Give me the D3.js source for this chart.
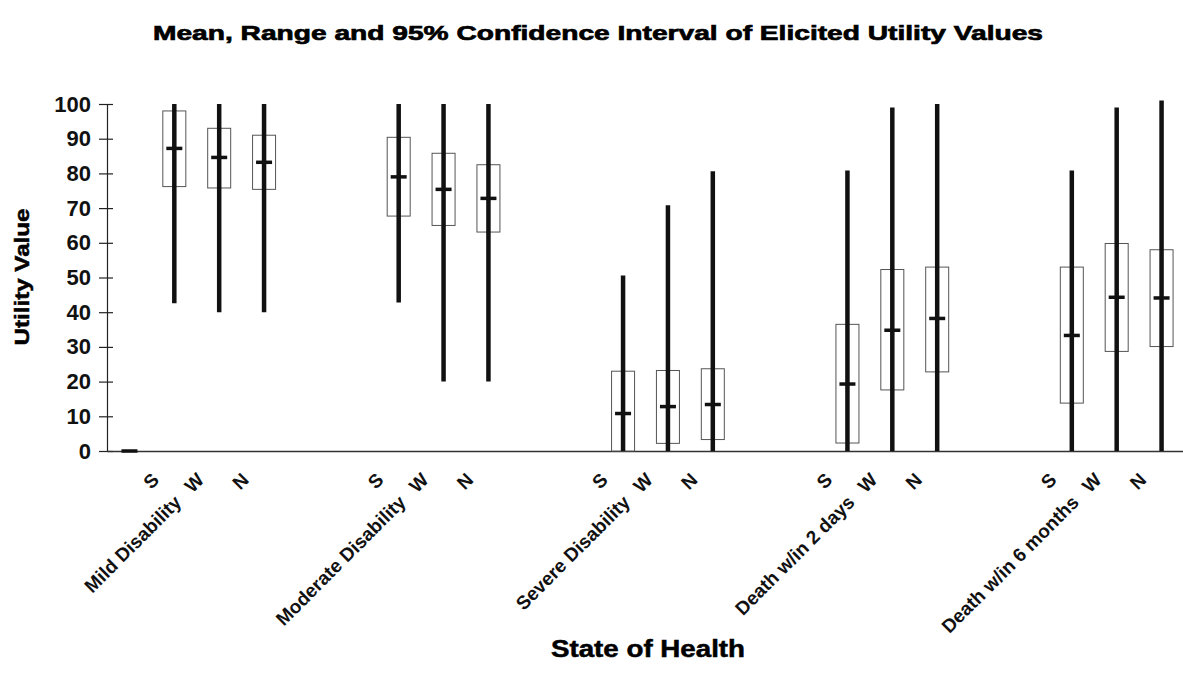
<!DOCTYPE html>
<html>
<head>
<meta charset="utf-8">
<script src="https://cdn.jsdelivr.net/npm/d3@7"></script>
<style>
  html, body { margin: 0; padding: 0; background: #fff; }
  svg { display: block; font-family: "Liberation Sans", Arial, Helvetica, sans-serif; }
</style>
</head>
<body>
<svg id="chart" width="1183" height="688"></svg>
<script>
// Health states and the three respondent series shown for each
const healthStates = ["Mild Disability", "Moderate Disability", "Severe Disability", "Death w/in 2 days", "Death w/in 6 months"];
const seriesCodes = ["S", "W", "N"];

// Mean utility per state (rows) and series (columns)
const meanUtility = [
  [87.2, 84.6, 83.2],
  [79.0, 75.4, 72.8],
  [10.8, 12.8, 13.4],
  [19.3, 34.8, 38.2],
  [33.3, 44.3, 44.1]
];
// 95% confidence interval bounds
const ciLower = [
  [76.2, 75.8, 75.4],
  [67.7, 65.0, 63.1],
  [0.0, 2.2, 3.3],
  [2.3, 17.6, 22.8],
  [13.8, 28.7, 30.1]
];
const ciUpper = [
  [98.0, 93.0, 91.0],
  [90.4, 85.8, 82.5],
  [23.0, 23.2, 23.7],
  [36.5, 52.3, 53.0],
  [53.0, 59.8, 58.0]
];
// Observed range of elicited values
const rangeMin = [
  [42.6, 40.0, 40.0],
  [42.8, 20.0, 20.0],
  [0.0, 0.0, 0.0],
  [0.0, 0.0, 0.0],
  [0.0, 0.0, 0.0]
];
const rangeMax = [
  [100.0, 100.0, 100.0],
  [100.0, 100.0, 100.0],
  [50.6, 70.8, 80.6],
  [80.8, 99.0, 100.0],
  [80.8, 99.0, 101.0]
];
// Leading empty category plotted at zero
const leadingMean = 0;

const yTicks = [0, 10, 20, 30, 40, 50, 60, 70, 80, 90, 100];

// Category slots: one leading blank, then each state's three series followed by two empty slots
const slots = [{ key: "lead", blank: true }];
healthStates.forEach((state, gi) => {
  seriesCodes.forEach((code, si) => {
    slots.push({
      key: gi + "-" + si, state, code, gi, si,
      mean: meanUtility[gi][si], lo: ciLower[gi][si], hi: ciUpper[gi][si],
      min: rangeMin[gi][si], max: rangeMax[gi][si]
    });
  });
  if (gi < healthStates.length - 1) {
    slots.push({ key: "gap" + gi + "a", blank: true });
    slots.push({ key: "gap" + gi + "b", blank: true });
  }
});

const svg = d3.select("#chart");
const plotLeft = 107, plotRight = 1184, plotBottom = 451, plotTop = 104;

const x = d3.scaleBand().domain(slots.map(d => d.key)).range([plotLeft, plotRight]);
const y = d3.scaleLinear().domain([0, 100]).range([plotBottom, plotTop]);
const cx = k => x(k) + x.bandwidth() / 2;

// Title
svg.append("text")
  .attr("x", 598).attr("y", 40)
  .attr("text-anchor", "middle")
  .attr("font-size", 21).attr("font-weight", "bold")
  .attr("stroke", "#000").attr("stroke-width", 0.7)
  .attr("textLength", 890).attr("lengthAdjust", "spacingAndGlyphs")
  .text("Mean, Range and 95% Confidence Interval of Elicited Utility Values");

// Y axis
const yAxis = d3.axisLeft(y).tickValues(yTicks).tickSize(8).tickPadding(10);
const yg = svg.append("g").attr("transform", `translate(${plotLeft},0)`).call(yAxis);
yg.select(".domain").attr("stroke", "#222").attr("stroke-width", 1.2);
yg.selectAll(".tick line").attr("stroke", "#222").attr("stroke-width", 1.2).attr("x2", 6).attr("x1", -8);
yg.selectAll(".tick text")
  .attr("font-size", 22).attr("font-weight", "bold").attr("fill", "#111")
  .attr("font-family", "Liberation Sans, Arial, sans-serif")
  .attr("x", -16);

svg.append("text")
  .attr("transform", `translate(29,277) rotate(-90)`)
  .attr("text-anchor", "middle")
  .attr("font-size", 20).attr("font-weight", "bold")
  .attr("stroke", "#000").attr("stroke-width", 0.5)
  .attr("textLength", 137).attr("lengthAdjust", "spacingAndGlyphs")
  .text("Utility Value");

// X axis baseline
const xAxis = d3.axisBottom(x).tickSize(0).tickFormat("");
const xg = svg.append("g").attr("transform", `translate(0,${plotBottom})`).call(xAxis);
xg.select(".domain").attr("stroke", "#333").attr("stroke-width", 1.5);

const data = slots.filter(d => !d.blank);

// Confidence interval boxes
svg.append("g").selectAll("rect").data(data).join("rect")
  .attr("x", d => cx(d.key) - 11.5)
  .attr("width", 23)
  .attr("y", d => y(d.hi))
  .attr("height", d => y(d.lo) - y(d.hi))
  .attr("fill", "#fff")
  .attr("stroke", "#555")
  .attr("stroke-width", 1);

// Range whiskers
svg.append("g").selectAll("line").data(data).join("line")
  .attr("x1", d => cx(d.key)).attr("x2", d => cx(d.key))
  .attr("y1", d => y(d.max)).attr("y2", d => y(d.min))
  .attr("stroke", "#111")
  .attr("stroke-width", 4.5);

// Mean markers
svg.append("g").selectAll("line").data(data).join("line")
  .attr("x1", d => cx(d.key) - 8).attr("x2", d => cx(d.key) + 8)
  .attr("y1", d => y(d.mean)).attr("y2", d => y(d.mean))
  .attr("stroke", "#111")
  .attr("stroke-width", 3.5);

// Mean marker for the leading empty category
svg.append("line")
  .attr("x1", cx("lead") - 8).attr("x2", cx("lead") + 8)
  .attr("y1", y(leadingMean)).attr("y2", y(leadingMean))
  .attr("stroke", "#111").attr("stroke-width", 3.5);

// Category labels, rotated; the middle series carries the state name
const labelG = svg.append("g").selectAll("g").data(data).join("g")
  .attr("transform", d => `translate(${cx(d.key) - 14},${plotBottom + 30}) rotate(-45)`);
labelG.append("text")
  .attr("text-anchor", "end")
  .attr("font-size", 19).attr("font-weight", "bold")
  .attr("fill", "#111")
  .text(d => d.code);
labelG.filter(d => d.si === 1).append("text")
  .attr("x", -32)
  .attr("text-anchor", "end")
  .attr("font-size", 19).attr("font-weight", "bold")
  .attr("fill", "#111")
  .text(d => d.state);

// X axis title
svg.append("text")
  .attr("x", 648).attr("y", 657)
  .attr("text-anchor", "middle")
  .attr("font-size", 23).attr("font-weight", "bold")
  .attr("stroke", "#000").attr("stroke-width", 0.5)
  .attr("textLength", 194).attr("lengthAdjust", "spacingAndGlyphs")
  .text("State of Health");
</script>
</body>
</html>
